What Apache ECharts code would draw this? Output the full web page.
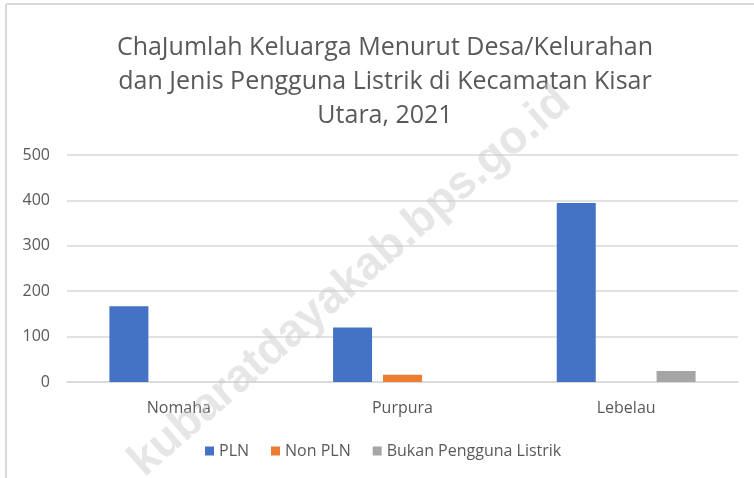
<!DOCTYPE html>
<html>
<head>
<meta charset="utf-8">
<script src="https://cdn.jsdelivr.net/npm/echarts@6/dist/echarts.min.js"></script>
<style>
  html, body { margin: 0; padding: 0; background: #fff; }
  #chart { width: 754px; height: 478px; }
</style>
</head>
<body>
<div id="chart"></div>
<script>
const categories = ["Nomaha", "Purpura", "Lebelau"];
const plnValues = [167, 120, 394];
const nonPlnValues = [0, 16, 0];
const bukanValues = [0, 0, 24];
const yTicks = [0, 100, 200, 300, 400, 500];

const textColor = "#595959";
const fontFamily = "'Open Sans', 'Noto Sans', sans-serif";

const chart = echarts.init(document.getElementById("chart"));

const barSeries = (name, data, color) => ({
  name: name,
  type: "bar",
  data: data,
  barWidth: 39,
  barGap: "28%",
  itemStyle: { color: color },
});

chart.setOption({
  backgroundColor: "#fff",
  title: {
    text: "ChaJumlah Keluarga Menurut Desa/Kelurahan\ndan Jenis Pengguna Listrik di Kecamatan Kisar\nUtara, 2021",
    left: 380,
    top: 26,
    textAlign: "center",
    textStyle: {
      fontFamily: fontFamily,
      fontSize: 25,
      fontWeight: "normal",
      color: textColor,
      lineHeight: 34,
    },
  },
  legend: {
    bottom: 14,
    left: 200,
    itemWidth: 9,
    itemHeight: 9,
    itemGap: 22,
    icon: "rect",
    textStyle: { fontFamily: fontFamily, fontSize: 16, color: textColor },
  },
  grid: { left: 67, right: 16, top: 155, bottom: 96 },
  xAxis: {
    type: "category",
    data: categories,
    axisLine: { lineStyle: { color: "#d9d9d9", width: 1.5 } },
    axisTick: { show: false },
    axisLabel: {
      margin: 18,
      fontFamily: fontFamily,
      fontSize: 16,
      color: textColor,
    },
  },
  yAxis: {
    type: "value",
    min: yTicks[0],
    max: yTicks[yTicks.length - 1],
    interval: 100,
    axisLine: { show: false },
    axisTick: { show: false },
    splitLine: { lineStyle: { color: "#d9d9d9", width: 1.5 } },
    axisLabel: {
      margin: 17,
      fontFamily: fontFamily,
      fontSize: 16,
      color: textColor,
    },
  },
  series: [
    barSeries("PLN", plnValues, "#4472c4"),
    barSeries("Non PLN", nonPlnValues, "#ed7d31"),
    barSeries("Bukan Pengguna Listrik", bukanValues, "#a5a5a5"),
  ],
  graphic: [
    // frame edges visible at top and left
    { type: "line", shape: { x1: 6, y1: 4, x2: 754, y2: 4 }, style: { stroke: "#d9d9d9", lineWidth: 2 } },
    { type: "line", shape: { x1: 6, y1: 4, x2: 6, y2: 478 }, style: { stroke: "#d9d9d9", lineWidth: 2 } },
    // watermark
    {
      type: "text",
      x: 350,
      y: 282,
      rotation: Math.PI * 41 / 180,
      z: 100,
      style: {
        text: "kubaratdayakab.bps.go.id",
        font: "bold 46px 'Liberation Sans', Arial, sans-serif",
        fill: "rgba(200,200,200,0.45)",
        align: "center",
        verticalAlign: "middle",
      },
    },
  ],
});

window.addEventListener("resize", () => chart.resize());
</script>
</body>
</html>
